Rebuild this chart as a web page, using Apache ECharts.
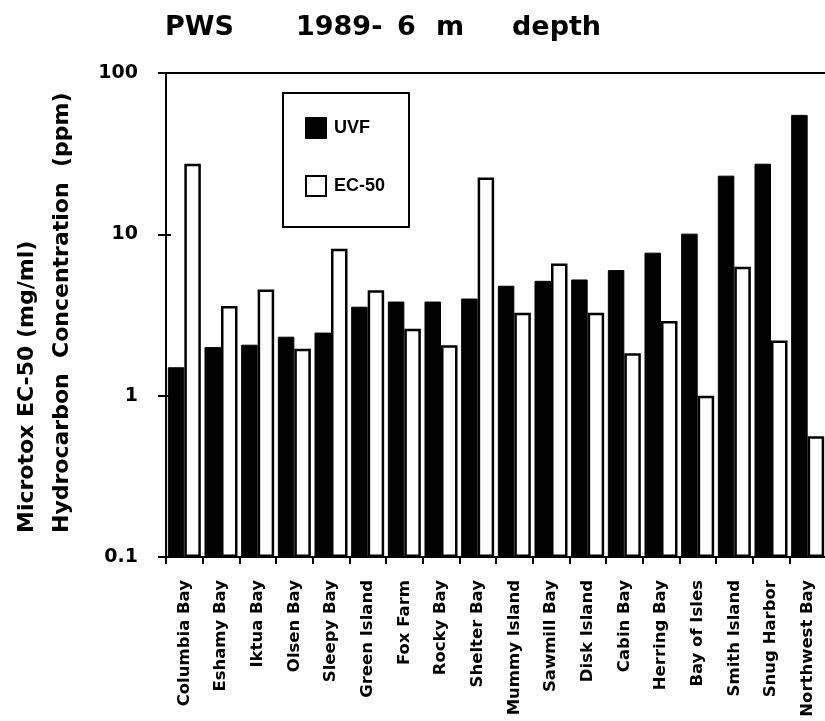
<!DOCTYPE html>
<html>
<head>
<meta charset="utf-8">
<script src="https://cdn.jsdelivr.net/npm/echarts@6/dist/echarts.min.js"></script>
<style>
html, body { margin: 0; padding: 0; background: #fff; }
#chart { width: 825px; height: 721px; }
</style>
</head>
<body>
<div id="chart"></div>
<script>
// sites along the x axis
var sites = ["Columbia Bay", "Eshamy Bay", "Iktua Bay", "Olsen Bay", "Sleepy Bay",
    "Green Island", "Fox Farm", "Rocky Bay", "Shelter Bay", "Mummy Island",
    "Sawmill Bay", "Disk Island", "Cabin Bay", "Herring Bay", "Bay of Isles",
    "Smith Island", "Snug Harbor", "Northwest Bay"];
// hydrocarbon concentration (ppm)
var uvf = [1.5, 2.0, 2.07, 2.32, 2.46, 3.56, 3.83, 3.83, 4.0, 4.8,
    5.15, 5.25, 6.0, 7.7, 10.1, 23.1, 27.4, 55];
// microtox EC-50 (mg/ml)
var ec50 = [27.4, 3.6, 4.55, 1.95, 8.15, 4.5, 2.6, 2.05, 22.5, 3.27,
    6.6, 3.27, 1.83, 2.9, 1.0, 6.3, 2.2, 0.56];
var yMin = 0.1, yMax = 100;
// title pieces, spaced out like the original
var titleParts = ["PWS", "1989-", "6", "m", "depth"];
var titleLeft = [165, 296, 397, 436, 512];

var font = "DejaVu Sans";
var chart = echarts.init(document.getElementById("chart"));

var titles = titleParts.map(function (t, i) {
    return {
        text: t,
        left: titleLeft[i],
        top: 14,
        padding: 0,
        textStyle: { fontFamily: font, fontWeight: "bold", fontSize: 27, color: "#000" }
    };
});

var option = {
    animation: false,
    backgroundColor: "#fff",
    title: titles,
    legend: {
        orient: "vertical",
        left: 283,
        top: 93,
        padding: [24, 24, 30, 22],
        borderColor: "#000",
        borderWidth: 2,
        itemWidth: 20,
        itemHeight: 20,
        itemGap: 36,
        icon: "rect",
        textStyle: { fontFamily: "Liberation Sans", fontWeight: "bold", fontSize: 18, color: "#000", padding: [0, 0, 0, 3] },
        data: ["UVF", "EC-50"]
    },
    grid: { left: 166, top: 73, width: 660, bottom: 164, outerBoundsMode: "none", containLabel: false },
    xAxis: [{
        type: "category",
        data: sites,
        axisLine: { lineStyle: { color: "#000", width: 2 } },
        axisTick: { show: true, length: 7, lineStyle: { color: "#000", width: 2 } },
        axisLabel: {
            rotate: 90,
            interval: 0,
            margin: 23,
            fontFamily: font,
            fontWeight: "bold",
            fontSize: 16.5,
            color: "#000"
        }
    }, {
        type: "category",
        position: "top",
        data: sites,
        axisLine: { lineStyle: { color: "#000", width: 2 } },
        axisTick: { show: false },
        axisLabel: { show: false }
    }],
    yAxis: [{
        type: "log",
        logBase: 10,
        min: yMin,
        max: yMax,
        startValue: yMin,
        splitLine: { show: false },
        axisLine: { show: true, lineStyle: { color: "#000", width: 2 } },
        axisTick: { show: true, length: 8, lineStyle: { color: "#000", width: 2 } },
        axisLabel: {
            margin: 28,
            fontFamily: font,
            fontWeight: "bold",
            fontSize: 19,
            color: "#000",
            formatter: function (v) { return String(+v.toPrecision(3)); }
        }
    }, {
        // inner half of the crossing ticks
        type: "log",
        logBase: 10,
        min: yMin,
        max: yMax,
        position: "left",
        splitLine: { show: false },
        axisLine: { show: false },
        axisTick: { show: true, inside: true, length: 5, lineStyle: { color: "#000", width: 2 } },
        axisLabel: { show: false }
    }],
    graphic: [{
        type: "text",
        x: 27,
        y: 533,
        rotation: Math.PI / 2,
        style: {
            text: "Microtox EC-50 (mg/ml)",
            fontFamily: font, fontWeight: "bold", fontSize: 22, fill: "#000",
            textAlign: "left", textVerticalAlign: "middle"
        }
    }, {
        type: "text",
        x: 62,
        y: 533,
        rotation: Math.PI / 2,
        style: {
            text: "Hydrocarbon  Concentration  (ppm)",
            fontFamily: font, fontWeight: "bold", fontSize: 22, fill: "#000",
            textAlign: "left", textVerticalAlign: "middle"
        }
    }],
    series: [{
        name: "UVF",
        type: "bar",
        data: uvf,
        barWidth: 16.5,
        barGap: "0%",
        itemStyle: { color: "#000", borderColor: "#000", borderWidth: 1 }
    }, {
        name: "EC-50",
        type: "bar",
        data: ec50,
        barWidth: 16.5,
        barGap: "0%",
        itemStyle: { color: "#fff", borderColor: "#000", borderWidth: 2.5 }
    }]
};
chart.setOption(option);
</script>
</body>
</html>
